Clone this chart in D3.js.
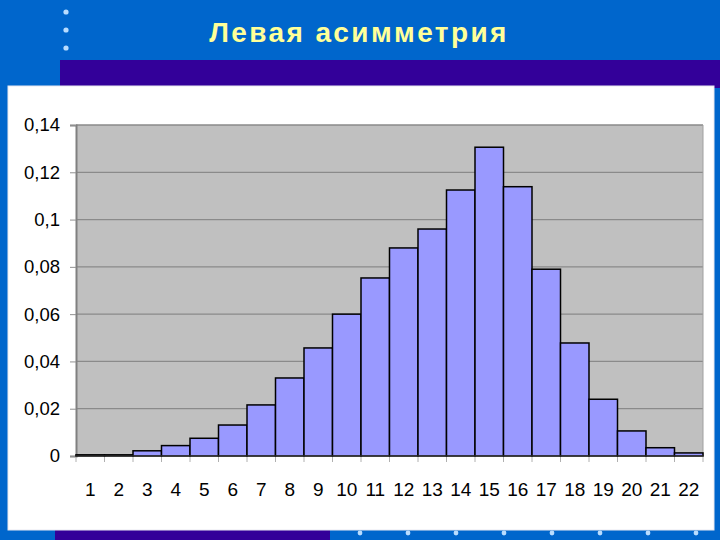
<!DOCTYPE html>
<html>
<head>
<meta charset="utf-8">
<script src="https://cdn.jsdelivr.net/npm/d3@7"></script>
<style>
  body { margin: 0; padding: 0; background: #0066cc; }
  svg { display: block; }
</style>
</head>
<body>
<div id="chart"></div>
<script>
// Canvas size
const width = 720;
const height = 540;

// Plot area inside the white panel
const margin = { left: 76, right: 17, top: 125, bottom: 84 };

// Data: categories (class numbers) and relative frequencies
const categories = d3.range(1, 23).map(String);
const frequencies = [
  0.0005, 0.0005, 0.0022, 0.0044, 0.0075, 0.0131, 0.0216, 0.0330,
  0.0457, 0.0600, 0.0753, 0.0880, 0.0960, 0.1125, 0.1306, 0.1139,
  0.0790, 0.0478, 0.0240, 0.0106, 0.0035, 0.0013
];
const yTicks = [0, 0.02, 0.04, 0.06, 0.08, 0.1, 0.12, 0.14];
const titleText = "Левая асимметрия";

const data = categories.map((c, i) => ({ name: c, value: frequencies[i] }));

const svg = d3.select("#chart")
  .append("svg")
  .attr("width", width)
  .attr("height", height);

/*
  Slide decoration
*/

// blue background
svg.append("rect")
  .attr("width", width).attr("height", height)
  .attr("fill", "#0066cc");

// purple band under the title
svg.append("rect")
  .attr("x", 60).attr("y", 60)
  .attr("width", 660).attr("height", 28)
  .attr("fill", "#330099");

// purple band at the bottom
svg.append("rect")
  .attr("x", 55).attr("y", 530)
  .attr("width", 275).attr("height", 10)
  .attr("fill", "#330099");

// white panel holding the chart
svg.append("rect")
  .attr("x", 8).attr("y", 86)
  .attr("width", 706).attr("height", 444)
  .attr("fill", "#ffffff")
  .attr("stroke", "#e8e8f0")
  .attr("stroke-width", 1);

// small dots (vertical on top-left, row at bottom)
const topDots = [12, 30, 48];
svg.selectAll(".tdot")
  .data(topDots)
  .enter()
  .append("circle")
  .attr("class", "tdot")
  .attr("cx", 66)
  .attr("cy", d => d)
  .attr("r", 2.6)
  .attr("fill", "#b8dcff");

const bottomDots = [360, 408, 456, 504, 552, 600, 648, 696];
svg.selectAll(".bdot")
  .data(bottomDots)
  .enter()
  .append("circle")
  .attr("class", "bdot")
  .attr("cx", d => d)
  .attr("cy", 533)
  .attr("r", 2.4)
  .attr("fill", "#b8dcff");

// title
svg.append("text")
  .attr("x", 359)
  .attr("y", 42)
  .attr("text-anchor", "middle")
  .attr("font-family", "Liberation Sans, Arial, sans-serif")
  .attr("font-weight", "bold")
  .attr("font-size", "28px")
  .attr("letter-spacing", "2.4px")
  .attr("fill", "#ffff99")
  .text(titleText);

/*
  Scales
*/

const xScale = d3.scaleBand()
  .domain(categories)
  .range([margin.left, width - margin.right])
  .padding(0);

const yScale = d3.scaleLinear()
  .domain([0, 0.14])
  .range([height - margin.bottom, margin.top]);

// plot background
svg.append("rect")
  .attr("x", margin.left)
  .attr("y", margin.top)
  .attr("width", width - margin.left - margin.right)
  .attr("height", (height - margin.bottom) - margin.top)
  .attr("fill", "#c0c0c0");

// gridlines
svg.append("g")
  .selectAll("line")
  .data(yTicks.slice(1))
  .enter()
  .append("line")
  .attr("x1", margin.left)
  .attr("x2", width - margin.right)
  .attr("y1", d => yScale(d))
  .attr("y2", d => yScale(d))
  .attr("stroke", "#8a8a8a")
  .attr("stroke-width", 1.3);

// right border of plot area
svg.append("line")
  .attr("x1", width - margin.right).attr("x2", width - margin.right)
  .attr("y1", margin.top).attr("y2", height - margin.bottom)
  .attr("stroke", "#a0a0a0")
  .attr("stroke-width", 1);

/*
  Axes
*/

const fmt = d => String(d).replace(".", ",");

const yAxis = svg.append("g")
  .attr("transform", `translate(${margin.left},0)`)
  .call(d3.axisLeft(yScale)
    .tickValues(yTicks)
    .tickFormat(fmt)
    .tickSize(6)
    .tickPadding(10));
yAxis.select(".domain")
  .attr("stroke", "#808080")
  .attr("stroke-width", 2);
yAxis.selectAll(".tick line").attr("stroke", "#909090");
yAxis.selectAll("text")
  .attr("font-family", "Liberation Sans, Arial, sans-serif")
  .attr("font-size", "18.5px")
  .attr("fill", "#000");

const xAxis = svg.append("g")
  .attr("transform", `translate(0,${height - margin.bottom})`)
  .call(d3.axisBottom(xScale).tickSize(0).tickPadding(27));
xAxis.select(".domain").remove();
xAxis.selectAll("text")
  .attr("font-family", "Liberation Sans, Arial, sans-serif")
  .attr("font-size", "19px")
  .attr("fill", "#000");

// tick marks on x axis at the band edges
svg.append("g")
  .selectAll("line")
  .data(categories.concat(["end"]))
  .enter()
  .append("line")
  .attr("x1", (d, i) => margin.left + i * xScale.bandwidth())
  .attr("x2", (d, i) => margin.left + i * xScale.bandwidth())
  .attr("y1", height - margin.bottom)
  .attr("y2", height - margin.bottom + 6)
  .attr("stroke", "#b0b0b0")
  .attr("stroke-width", 1);

/*
  Bars
*/

svg.selectAll(".bar")
  .data(data)
  .enter()
  .append("rect")
  .attr("class", "bar")
  .attr("x", d => xScale(d.name))
  .attr("y", d => yScale(d.value))
  .attr("width", xScale.bandwidth())
  .attr("height", d => (height - margin.bottom) - yScale(d.value))
  .attr("fill", "#9999ff")
  .attr("stroke", "#000")
  .attr("stroke-width", 1.5);

// baseline
svg.append("line")
  .attr("x1", margin.left).attr("x2", width - margin.right)
  .attr("y1", height - margin.bottom).attr("y2", height - margin.bottom)
  .attr("stroke", "#404040")
  .attr("stroke-width", 1);
</script>
</body>
</html>
